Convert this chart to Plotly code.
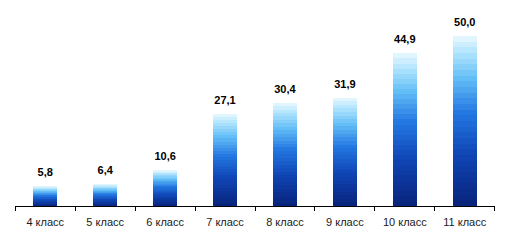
import plotly.graph_objects as go

categories = ["4 класс", "5 класс", "6 класс", "7 класс", "8 класс", "9 класс", "10 класс", "11 класс"]
values = [5.8, 6.4, 10.6, 27.1, 30.4, 31.9, 44.9, 50.0]

# vertical gradient stops (style only), bottom dark -> top light
stops = [(0.0, (8, 35, 122)), (0.3, (15, 69, 181)), (0.55, (36, 120, 226)),
         (0.75, (100, 190, 246)), (0.9, (175, 228, 253)), (1.0, (235, 248, 255))]

def col(t):
    for (a, ca), (b, cb) in zip(stops[:-1], stops[1:]):
        if a <= t <= b:
            f = (t - a) / (b - a)
            return "rgb(%d,%d,%d)" % tuple(round(x + (y - x) * f) for x, y in zip(ca, cb))
    return "rgb(%d,%d,%d)" % stops[-1][1]

n = 30
fig = go.Figure()
for i in range(n):
    fig.add_trace(go.Bar(
        x=categories, y=[v / n for v in values],
        marker=dict(color=col((i + 0.5) / n), line=dict(width=0)),
        width=0.4, hoverinfo="skip", showlegend=False,
    ))

fig.add_trace(go.Scatter(
    x=categories, y=values, mode="markers+text",
    marker=dict(size=10, opacity=0),
    text=[f"{v:.1f}".replace(".", ",") for v in values],
    textposition="top center",
    textfont=dict(family="Liberation Sans, Arial", size=11, color="#000000"),
    texttemplate="<b>%{text}</b>",
    showlegend=False, cliponaxis=False, hoverinfo="skip",
))

fig.update_layout(
    width=508, height=245,
    margin=dict(l=15, r=13, t=19, b=39),
    barmode="stack", bargap=0,
    plot_bgcolor="white", paper_bgcolor="white",
    font=dict(family="Liberation Sans, Arial", size=11, color="#1a1a1a"),
)
fig.update_xaxes(
    showline=True, linecolor="#000000", linewidth=1,
    ticks="outside", tickson="boundaries", ticklen=4, tickcolor="#000000",
    ticklabelstandoff=6,
    showgrid=False, tickfont=dict(size=11),
)
fig.update_yaxes(range=[0, 55], visible=False, showgrid=False)

fig.write_html("out.html")
